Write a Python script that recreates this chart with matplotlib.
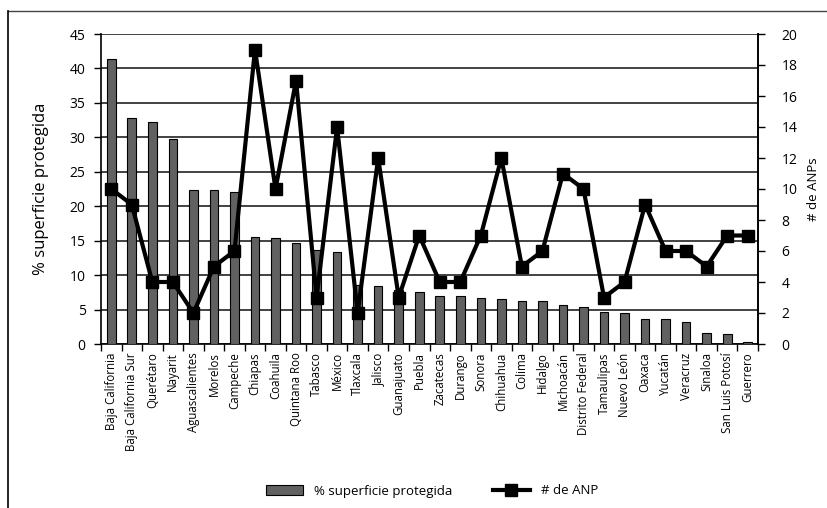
import matplotlib
matplotlib.use("Agg")
import matplotlib.pyplot as plt
from matplotlib.lines import Line2D

plt.rcParams['font.family'] = ['Open Sans', 'DejaVu Sans']

# datos por estado
estados = ['Baja California', 'Baja California Sur', 'Querétaro', 'Nayarit',
           'Aguascalientes', 'Morelos', 'Campeche', 'Chiapas', 'Coahuila',
           'Quintana Roo', 'Tabasco', 'México', 'Tlaxcala', 'Jalisco',
           'Guanajuato', 'Puebla', 'Zacatecas', 'Durango', 'Sonora',
           'Chihuahua', 'Colima', 'Hidalgo', 'Michoacán', 'Distrito Federal',
           'Tamaulipas', 'Nuevo León', 'Oaxaca', 'Yucatán', 'Veracruz',
           'Sinaloa', 'San Luis Potosí', 'Guerrero']
superficie = [41.3, 32.8, 32.2, 29.7, 22.3, 22.3, 22.0, 15.5, 15.4, 14.6,
              13.6, 13.3, 8.5, 8.4, 7.8, 7.5, 7.0, 6.9, 6.7, 6.6, 6.3, 6.3,
              5.7, 5.4, 4.7, 4.5, 3.6, 3.6, 3.2, 1.6, 1.5, 0.3]
num_anp = [10, 9, 4, 4, 2, 5, 6, 19, 10, 17, 3, 14, 2, 12, 3, 7, 4, 4, 7,
           12, 5, 6, 11, 10, 3, 4, 9, 6, 6, 5, 7, 7]

fig = plt.figure(figsize=(8.27, 5.08), dpi=100)
ax = fig.add_axes([101/827, 1-344/508, 657/827, 310/508])
x = list(range(len(estados)))

bars = ax.bar(x, superficie, width=0.42, color='#616161', edgecolor='black',
              linewidth=0.8, zorder=3)
ax.set_xlim(-0.5, len(estados)-0.5)
ax.set_ylim(0, 45)
ax.set_yticks(range(0, 46, 5))
ax.yaxis.grid(True, color='#222222', linewidth=1.2, zorder=0)
ax.set_axisbelow(True)
ax.set_xticks(x)
ax.set_xticklabels(estados, rotation=90, fontsize=8.3)
ax.set_xticks([i-0.5 for i in range(len(estados)+1)], minor=True)
ax.tick_params(axis='x', which='major', length=0, pad=6)
ax.tick_params(axis='x', which='minor', length=5, width=1, direction='out')
ax.tick_params(axis='y', labelsize=10, length=5, width=1, pad=6)
ax.set_ylabel('% superficie protegida', fontsize=12, labelpad=15)
for s in ['left', 'bottom', 'right']:
    ax.spines[s].set_linewidth(1.2)
ax.spines['top'].set_visible(False)

ax2 = ax.twinx()
ax2.plot(x, num_anp, color='black', linewidth=3, marker='s', markersize=9,
         zorder=4)
ax2.set_ylim(0, 20)
ax2.set_yticks(range(0, 21, 2))
ax2.tick_params(axis='y', labelsize=10, length=5, width=1, pad=12)
ax2.set_ylabel('# de ANPs', fontsize=9.5, labelpad=7)
ax2.spines['right'].set_linewidth(1.2)
ax2.spines['top'].set_visible(False)
ax2.spines['left'].set_visible(False)
ax2.spines['bottom'].set_visible(False)

# marco exterior
fig.add_artist(Line2D([8/827, 1], [1-11/508, 1-11/508], color='#444444', lw=1))
fig.add_artist(Line2D([8/827, 8/827], [0, 1-11/508], color='black', lw=1.2))

handles = [bars, Line2D([], [], color='black', lw=3, marker='s', markersize=9)]
fig.legend(handles, ['% superficie protegida', '# de ANP'], loc='center',
           bbox_to_anchor=(432/827, 1-491/508), ncol=2, frameon=False,
           fontsize=9.5, handlelength=2.8, columnspacing=3.1)

fig.savefig('out.png', dpi=100)
